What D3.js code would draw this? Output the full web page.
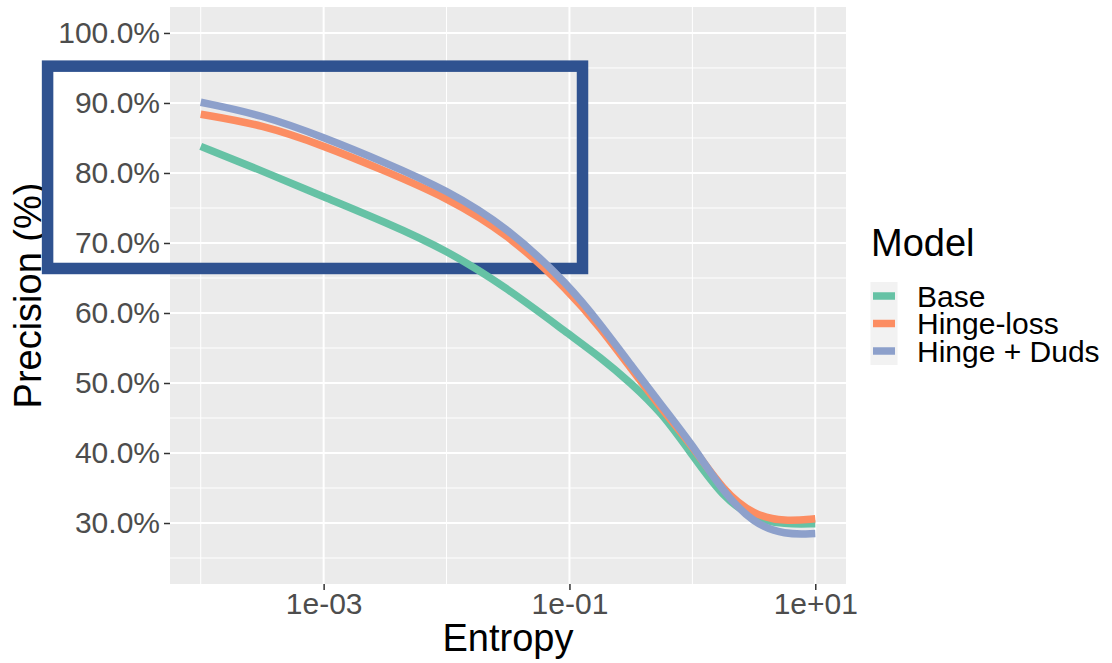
<!DOCTYPE html>
<html>
<head>
<meta charset="utf-8">
<script src="https://cdn.jsdelivr.net/npm/d3@7"></script>
<style>
  body { margin: 0; background: #fff; }
  text { font-family: "Liberation Sans", Arial, sans-serif; }
</style>
</head>
<body>
<div id="chart"></div>
<script>
// data
const entropy   = [1e-4, 3.16e-4, 1e-3, 3.16e-3, 1e-2, 3.16e-2, 0.1, 0.178, 0.316, 0.562, 1, 1.78, 3.16, 5.62, 10];
const baseVals  = [83.8, 80.3, 76.6, 73.0, 69.0, 63.5, 56.9, 53.7, 50.0, 45.8, 39.7, 33.6, 30.6, 29.8, 29.9];
const hingeVals = [88.4, 86.9, 83.9, 80.3, 76.5, 71.3, 63.1, 57.9, 52.1, 46.3, 41.0, 34.6, 31.1, 30.2, 30.6];
const dudsVals  = [90.1, 88.3, 85.1, 81.5, 77.6, 72.2, 63.9, 58.4, 52.6, 46.8, 41.2, 34.4, 29.9, 28.3, 28.5];
const models    = ["Base", "Hinge-loss", "Hinge + Duds"];
const colors    = ["#66C2A5", "#FC8D62", "#8DA0CB"];

const xTicks      = [1e-3, 1e-1, 1e1];
const xTickLabels = ["1e-03", "1e-01", "1e+01"];
const xMinor      = [1e-4, 1e-2, 1];
const yTicks      = [30, 40, 50, 60, 70, 80, 90, 100];
const yMinor      = [25, 35, 45, 55, 65, 75, 85, 95];

// highlight box (entropy from / to, precision from / to)
const boxX = [10 ** -5.246, 0.1277];
const boxY = [66.36, 95.26];

const series = models.map((m, i) => ({
    name: m,
    color: colors[i],
    values: entropy.map((e, j) => ({ x: e, y: [baseVals, hingeVals, dudsVals][i][j] }))
}));

// globals
let width = 1112, height = 663;
let pLeft = 170, pRight = 846, pTop = 7, pBottom = 584;

let svg = d3.select('#chart').append('svg')
    .attr('width', width)
    .attr('height', height);

let x = d3.scaleLog()
    .domain([10 ** -4.25, 10 ** 1.25])
    .range([pLeft, pRight]);

let y = d3.scaleLinear()
    .domain([21.29, 103.71])
    .range([pBottom, pTop]);

// axis titles
svg.append('text')
    .attr('x', (pLeft + pRight) / 2)
    .attr('y', 651)
    .attr('text-anchor', 'middle')
    .style('font-size', '38px')
    .text('Entropy');

svg.append('text')
    .attr('transform', 'translate(41,' + (pTop + pBottom) / 2 + ') rotate(-90)')
    .attr('text-anchor', 'middle')
    .style('font-size', '38px')
    .text('Precision (%)');

// panel
svg.append('rect')
    .attr('x', pLeft)
    .attr('y', pTop)
    .attr('width', pRight - pLeft)
    .attr('height', pBottom - pTop)
    .attr('fill', '#EBEBEB');

// minor grid
svg.selectAll('line.xminor').data(xMinor).enter().append('line')
    .attr('class', 'xminor')
    .attr('x1', d => x(d)).attr('x2', d => x(d))
    .attr('y1', pTop).attr('y2', pBottom)
    .style('stroke', '#fff').style('stroke-width', 1);

svg.selectAll('line.yminor').data(yMinor).enter().append('line')
    .attr('class', 'yminor')
    .attr('x1', pLeft).attr('x2', pRight)
    .attr('y1', d => y(d)).attr('y2', d => y(d))
    .style('stroke', '#fff').style('stroke-width', 1);

// major grid
svg.selectAll('line.xmajor').data(xTicks).enter().append('line')
    .attr('class', 'xmajor')
    .attr('x1', d => x(d)).attr('x2', d => x(d))
    .attr('y1', pTop).attr('y2', pBottom)
    .style('stroke', '#fff').style('stroke-width', 2);

svg.selectAll('line.ymajor').data(yTicks).enter().append('line')
    .attr('class', 'ymajor')
    .attr('x1', pLeft).attr('x2', pRight)
    .attr('y1', d => y(d)).attr('y2', d => y(d))
    .style('stroke', '#fff').style('stroke-width', 2);

// axes
let xAxis = svg.append('g')
    .attr('transform', 'translate(0,' + pBottom + ')')
    .call(d3.axisBottom(x).tickValues(xTicks)
        .tickFormat((d, i) => xTickLabels[i])
        .tickSize(6).tickPadding(3));

let yAxis = svg.append('g')
    .attr('transform', 'translate(' + pLeft + ',0)')
    .call(d3.axisLeft(y).tickValues(yTicks)
        .tickFormat(d => d3.format('.1%')(d / 100))
        .tickSize(6).tickPadding(4));

[xAxis, yAxis].forEach(a => {
    a.select('.domain').remove();
    a.selectAll('.tick line').style('stroke', '#333333').style('stroke-width', 1.5);
    a.selectAll('.tick text')
        .style('fill', '#4D4D4D')
        .style('font-size', '30px')
        .style('font-family', '"Liberation Sans", Arial, sans-serif');
});

// highlight box
svg.append('rect')
    .attr('x', x(boxX[0]))
    .attr('y', y(boxY[1]))
    .attr('width', x(boxX[1]) - x(boxX[0]))
    .attr('height', y(boxY[0]) - y(boxY[1]))
    .attr('fill', 'none')
    .style('stroke', '#2F5290')
    .style('stroke-width', 11.5);

// smoothed lines
svg.append('clipPath').attr('id', 'clip')
    .append('rect')
    .attr('x', pLeft).attr('y', pTop)
    .attr('width', pRight - pLeft).attr('height', pBottom - pTop);

let line = d3.line()
    .x(d => x(d.x))
    .y(d => y(d.y))
    .curve(d3.curveBasis);

svg.append('g').attr('clip-path', 'url(#clip)')
    .selectAll('path').data(series).enter().append('path')
    .attr('d', d => line(d.values))
    .attr('fill', 'none')
    .style('stroke', d => d.color)
    .style('stroke-width', 7.5);

// legend
let legend = svg.append('g');

legend.append('text')
    .attr('x', 871)
    .attr('y', 256)
    .style('font-size', '38px')
    .text('Model');

legend.append('rect')
    .attr('x', 870.5)
    .attr('y', 282)
    .attr('width', 27)
    .attr('height', 83)
    .attr('fill', '#F2F2F2');

legend.selectAll('line.key').data(series).enter().append('line')
    .attr('class', 'key')
    .attr('x1', 873).attr('x2', 895)
    .attr('y1', (d, i) => 296 + 27.5 * i)
    .attr('y2', (d, i) => 296 + 27.5 * i)
    .style('stroke', d => d.color)
    .style('stroke-width', 7.5);

legend.selectAll('text.lab').data(series).enter().append('text')
    .attr('class', 'lab')
    .attr('x', 917)
    .attr('y', (d, i) => 306.5 + 27.5 * i)
    .style('font-size', '30px')
    .text(d => d.name);
</script>
</body>
</html>
